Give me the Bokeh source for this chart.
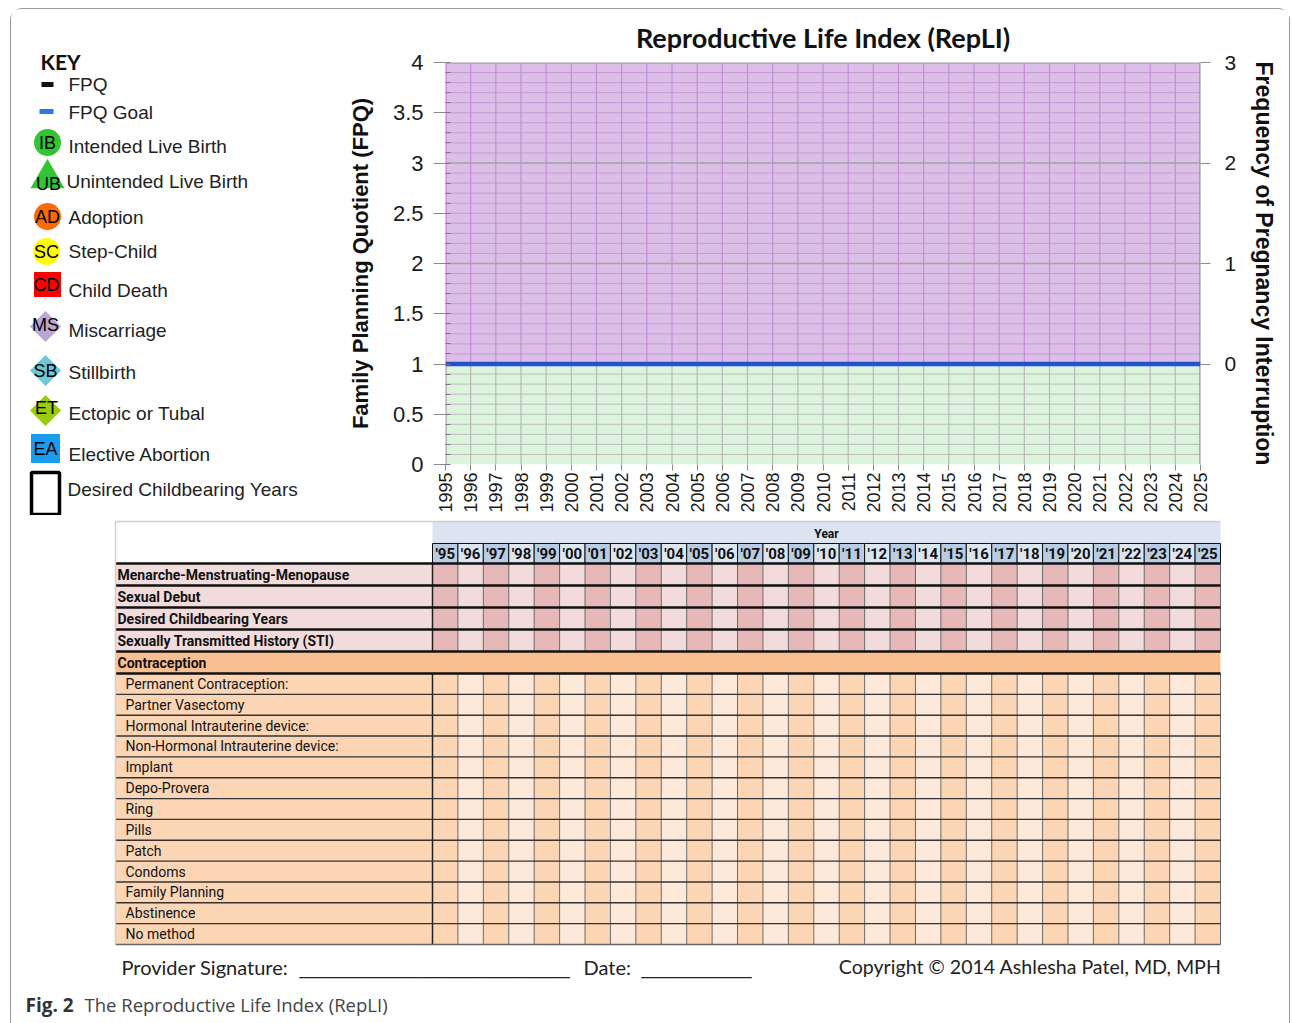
import math
from bokeh.plotting import figure
from bokeh.models import Range1d, LinearAxis, FixedTicker, ColumnDataSource, Column, Row
from bokeh.embed import file_html
from bokeh.resources import INLINE
from bokeh.core.properties import value

# ---------------- data ----------------
years = list(range(1995, 2026))
year_tick_labels = [str(y) for y in years]
year_header_labels = ["'95", "'96", "'97", "'98", "'99", "'00", "'01", "'02", "'03", "'04",
                      "'05", "'06", "'07", "'08", "'09", "'10", "'11", "'12", "'13", "'14",
                      "'15", "'16", "'17", "'18", "'19", "'20", "'21", "'22", "'23", "'24", "'25"]
fpq_ticks = [0, 0.5, 1, 1.5, 2, 2.5, 3, 3.5, 4]
fpq_tick_labels = ["0", "0.5", "1", "1.5", "2", "2.5", "3", "3.5", "4"]
fpq_minor_ticks = [round(i / 10, 1) for i in range(41)]
fpq_goal = 1.0
fpq_top = 4.0
freq_ticks = [0, 1, 2, 3]
freq_tick_labels = ["0", "1", "2", "3"]

key_labels = ["FPQ", "FPQ Goal", "Intended Live Birth", "Unintended Live Birth", "Adoption",
              "Step-Child", "Child Death", "Miscarriage", "Stillbirth", "Ectopic or Tubal",
              "Elective Abortion", "Desired Childbearing Years"]
key_codes = ["", "", "IB", "UB", "AD", "SC", "CD", "MS", "SB", "ET", "EA", ""]

history_rows = ["Menarche-Menstruating-Menopause", "Sexual Debut", "Desired Childbearing Years",
                "Sexually Transmitted History (STI)"]
contraception_header = "Contraception"
method_rows = ["Permanent Contraception:", "Partner Vasectomy", "Hormonal Intrauterine device:",
               "Non-Hormonal Intrauterine device:", "Implant", "Depo-Provera", "Ring", "Pills",
               "Patch", "Condoms", "Family Planning", "Abstinence", "No method"]

SANS = "Liberation Sans"
NARROW = "Roboto"
HUMAN = "Lato"

# page geometry (content box starts at page x=11, y=9 inside the rounded frame)
OX, OY = 11, 9
KEY_W = 338 - OX
TOP_H = 515 - OY
CHART_W = 1289 - 338
PAGE_BOTTOM = 1023


def blank(width, height, xr, yr):
    f = figure(width=width, height=height, x_range=xr, y_range=yr, x_axis_type=None,
               y_axis_type=None, output_backend="svg", toolbar_location=None, min_border=0)
    f.outline_line_color = None
    f.frame_align = False
    return f


# ---------------- key (legend) ----------------
key = blank(KEY_W, TOP_H, Range1d(OX, 338), Range1d(515, OY))
key.text(x=[40], y=[61], text=["KEY"], text_font=value(HUMAN), text_font_style="bold",
         text_font_size="21px", text_baseline="middle", text_color="#111")

label_y = [84, 112, 146, 181, 217, 251, 290, 330, 372, 413, 454, 489]
label_x = [68, 68, 68, 66, 68, 68, 68, 68, 68, 68, 68, 67]
key.text(x=label_x, y=label_y, text=key_labels, text_font=value(SANS), text_font_size="19px",
         text_baseline="middle", text_align="left", text_color="#222")

key.rect(x=[47], y=[84], width=12, height=5, fill_color="#111", line_color=None)
key.rect(x=[46], y=[111], width=14, height=5, fill_color="#2a7ae2", line_color=None)
key.scatter(x=[47, 47, 46], y=[142, 216, 251], size=27, marker="circle",
            fill_color=["#33c433", "#ff6a00", "#ffff00"], line_color=None)
key.scatter(x=[47], y=[178], size=34, marker="triangle", fill_color="#33c433", line_color=None)
key.rect(x=[47], y=[284], width=27, height=25, fill_color="#ff0000", line_color=None)
key.scatter(x=[45, 45, 45], y=[326, 370, 410], size=22, marker="square", angle=math.pi / 4,
            fill_color=["#b9a6d1", "#6ec8d8", "#99cc11"], line_color=None)
key.rect(x=[45], y=[448], width=29, height=29, fill_color="#1a9cf0", line_color=None)
key.rect(x=[45], y=[493], width=28, height=42, fill_color=None, line_color="#000",
         line_width=3.5)
code_x = [47, 48, 47, 46, 46, 45, 45, 46, 45]
code_y = [142, 183, 216, 251, 284, 324, 370, 407, 448]
key.text(x=code_x, y=code_y, text=key_codes[2:11], text_font=value(SANS),
         text_font_size="18px", text_align="center", text_baseline="middle", text_color="#000")

# ---------------- chart ----------------
chart = figure(width=CHART_W, height=TOP_H, x_range=Range1d(years[0], years[-1]),
               y_range=Range1d(0, fpq_top), output_backend="svg", toolbar_location=None,
               min_border_left=107, min_border_right=CHART_W - 107 - 755,
               min_border_top=61 - OY, min_border_bottom=48,
               title="Reproductive Life Index (RepLI)")
chart.frame_align = False
chart.title.align = "center"
chart.title.text_font = HUMAN
chart.title.text_font_size = "27px"
chart.title.text_font_style = "bold"
chart.title.text_color = "#111"
chart.title.standoff = 18
chart.outline_line_color = None
chart.grid.grid_line_color = None
chart.extra_y_ranges = {"freq": Range1d(fpq_ticks[0] - fpq_goal, fpq_top - fpq_goal)}

chart.quad(left=years[0], right=years[-1], bottom=fpq_goal, top=fpq_top,
           fill_color="#dbbfe7", line_color=None)
chart.quad(left=years[0], right=years[-1], bottom=0, top=fpq_goal,
           fill_color="#ddf4dc", line_color=None)

minor_y = [t for t in fpq_minor_ticks if 0 < t < fpq_top and abs(t - round(t)) > 1e-9]
upper = [t for t in minor_y if t > fpq_goal]
lower = [t for t in minor_y if t < fpq_goal]
chart.segment(x0=years[0], x1=years[-1], y0=upper, y1=upper, line_color="#c898d8", line_width=1)
chart.segment(x0=years[0], x1=years[-1], y0=lower, y1=lower, line_color="#bcbcbc", line_width=1)
inner_years = years[1:-1]
chart.segment(x0=inner_years, x1=inner_years, y0=fpq_goal, y1=fpq_top,
              line_color="#c48ed6", line_width=1.2)
chart.segment(x0=inner_years, x1=inner_years, y0=0, y1=fpq_goal,
              line_color="#b8b8b8", line_width=1.2)
major_upper = [t for t in range(2, int(fpq_top))]
chart.segment(x0=years[0], x1=years[-1], y0=major_upper, y1=major_upper,
              line_color="#a4a4a4", line_width=1.4)
chart.segment(x0=years[0], x1=years[-1], y0=[fpq_top], y1=[fpq_top],
              line_color="#9fab9f", line_width=2.5)
chart.segment(x0=[years[0]], x1=[years[0]], y0=[fpq_goal], y1=[fpq_top],
              line_color="#d77de6", line_width=2.5)
chart.segment(x0=[years[0]], x1=[years[0]], y0=[0], y1=[fpq_goal],
              line_color="#aaaaaa", line_width=2.5)
chart.segment(x0=[years[-1]], x1=[years[-1]], y0=[0], y1=[fpq_top],
              line_color="#999999", line_width=2.5)
chart.line(x=[years[0], years[-1]], y=[fpq_goal, fpq_goal], line_color="#2452cf", line_width=4.5)

ya = chart.yaxis[0]
ya.ticker = FixedTicker(ticks=fpq_ticks, minor_ticks=fpq_minor_ticks)
ya.major_label_overrides = dict(zip(fpq_ticks, fpq_tick_labels))
ya.axis_line_color = None
ya.major_tick_out = 12
ya.major_tick_in = 0
ya.major_tick_line_color = "#8a8a8a"
ya.minor_tick_in = 5
ya.minor_tick_out = 0
ya.minor_tick_line_color = "#8a6a96"
ya.major_label_text_font = SANS
ya.major_label_text_font_size = "22px"
ya.major_label_text_color = "#1a1a1a"
ya.major_label_standoff = 10
ya.axis_label = "Family Planning Quotient (FPQ)"
ya.axis_label_text_font = SANS
ya.axis_label_text_font_style = "bold"
ya.axis_label_text_font_size = "22px"
ya.axis_label_text_color = "#111"
ya.axis_label_standoff = 17

ra = LinearAxis(y_range_name="freq", ticker=FixedTicker(ticks=freq_ticks, minor_ticks=[]))
ra.major_label_overrides = dict(zip(freq_ticks, freq_tick_labels))
ra.axis_line_color = None
ra.major_tick_out = 10
ra.major_tick_in = 0
ra.major_tick_line_color = "#8a8a8a"
ra.minor_tick_line_color = None
ra.major_label_text_font = SANS
ra.major_label_text_font_size = "21px"
ra.major_label_text_color = "#1a1a1a"
ra.major_label_standoff = 14
ra.axis_label = "Frequency of Pregnancy Interruption"
ra.axis_label_text_font = SANS
ra.axis_label_text_font_style = "bold"
ra.axis_label_text_font_size = "23px"
ra.axis_label_text_color = "#111"
ra.axis_label_standoff = 12
chart.add_layout(ra, "right")

xa = chart.xaxis[0]
xa.ticker = FixedTicker(ticks=years, minor_ticks=[])
xa.major_label_overrides = dict(zip(years, year_tick_labels))
xa.major_label_orientation = math.pi / 2
xa.axis_line_color = None
xa.major_tick_out = 6
xa.major_tick_in = 0
xa.major_tick_line_color = "#8a8a8a"
xa.minor_tick_line_color = None
xa.major_label_text_font = SANS
xa.major_label_text_font_size = "18px"
xa.major_label_text_color = "#1a1a1a"
xa.major_label_standoff = 2

# ---------------- table ----------------
TBL_W = 1289 - OX
PX = (1220 - 432) / len(years)          # pixels per year column
tx0 = years[0] - 0.5 - (432 - OX) / PX
tbl = blank(TBL_W, 948 - 515, Range1d(tx0, tx0 + TBL_W / PX), Range1d(948, 515))
L = tx0 + (115 - OX) / PX
C0 = years[0] - 0.5
R = years[-1] + 0.5
col_l = [y - 0.5 for y in years]
col_r = [y + 0.5 for y in years]
odd = [i % 2 == 0 for i in range(len(years))]

# header
tbl.quad(left=[L], right=[C0], top=[521], bottom=[563], fill_color="white", line_color=None)
tbl.quad(left=[C0], right=[R], top=[521], bottom=[543], fill_color="#dbe5f1", line_color=None)
tbl.text(x=[(C0 + R) / 2], y=[533], text=["Year"], text_font=value(NARROW),
         text_font_style="bold", text_font_size="12px", text_align="center",
         text_baseline="middle", text_color="#111")
tbl.quad(left=col_l, right=col_r, top=543, bottom=563,
         fill_color=["#b8cce4" if o else "#dce6f1" for o in odd], line_color="#111",
         line_width=1)
tbl.text(x=years, y=553, text=year_header_labels, text_font=value(NARROW),
         text_font_style="bold", text_font_size="15px", text_align="center",
         text_baseline="middle", text_color="#111")

hist_h = 22
hist_tops = [563 + i * hist_h for i in range(len(history_rows))]
contra_top = hist_tops[-1] + hist_h
contra_bot = contra_top + 22
meth_bot = 944
meth_h = (meth_bot - contra_bot) / len(method_rows)
meth_tops = [contra_bot + i * meth_h for i in range(len(method_rows))]

cl, cr, ct, cb, cc = [], [], [], [], []
for t in hist_tops:
    for j in range(len(years)):
        cl.append(col_l[j]); cr.append(col_r[j]); ct.append(t); cb.append(t + hist_h)
        cc.append("#e6b8b7" if odd[j] else "#f2dcdb")
for t in meth_tops:
    for j in range(len(years)):
        cl.append(col_l[j]); cr.append(col_r[j]); ct.append(t); cb.append(t + meth_h)
        cc.append("#fcd5b4" if odd[j] else "#fde9d9")
tbl.quad(left=[L] * len(hist_tops), right=C0, top=hist_tops,
         bottom=[t + hist_h for t in hist_tops], fill_color="#f2dcdb", line_color=None)
tbl.quad(left=[L] * len(meth_tops), right=C0, top=meth_tops,
         bottom=[t + meth_h for t in meth_tops], fill_color="#fcd5b4", line_color=None)
tbl.quad(source=ColumnDataSource(dict(l=cl, r=cr, t=ct, b=cb, c=cc)), left="l", right="r",
         top="t", bottom="b", fill_color="c", line_color=None)
tbl.quad(left=[L], right=[R], top=[contra_top], bottom=[contra_bot], fill_color="#fabf8f",
         line_color=None)

vx = col_l[1:] + [R]
tbl.segment(x0=vx, x1=vx, y0=hist_tops[0], y1=contra_top, line_color="#6a6a6a", line_width=1)
tbl.segment(x0=vx, x1=vx, y0=contra_bot, y1=meth_bot, line_color="#6a6a6a", line_width=1)
tbl.segment(x0=[C0, C0], x1=[C0, C0], y0=[hist_tops[0], contra_bot],
            y1=[contra_top, meth_bot], line_color="#222", line_width=1.5)
hb = hist_tops + [contra_top, contra_bot]
tbl.segment(x0=L, x1=R, y0=hb, y1=hb, line_color="#111", line_width=2.5)
mb = meth_tops[1:]
tbl.segment(x0=L, x1=R, y0=mb, y1=mb, line_color="#333", line_width=1.4)
tbl.segment(x0=[L], x1=[R], y0=[meth_bot], y1=[meth_bot], line_color="#666", line_width=1.5)
tbl.segment(x0=[L, L], x1=[R, L], y0=[521, 521], y1=[521, meth_bot], line_color="#cfcfcf",
            line_width=1.5)

tbl.text(x=L + 2 / PX, y=[t + hist_h / 2 for t in hist_tops], text=history_rows,
         text_font=value(NARROW), text_font_style="bold", text_font_size="14px",
         text_baseline="middle", text_color="#111")
tbl.text(x=[L + 2 / PX], y=[(contra_top + contra_bot) / 2], text=[contraception_header],
         text_font=value(NARROW), text_font_style="bold", text_font_size="14px",
         text_baseline="middle", text_color="#111")
tbl.text(x=L + 10 / PX, y=[t + meth_h / 2 for t in meth_tops], text=method_rows,
         text_font=value(NARROW), text_font_size="14px", text_baseline="middle",
         text_color="#111")

# ---------------- footer ----------------
foot = blank(TBL_W, PAGE_BOTTOM - 948, Range1d(OX, 1289), Range1d(PAGE_BOTTOM, 948))
foot.text(x=[121, 583], y=[966, 966], text=["Provider Signature:", "Date:"],
          text_font=value(HUMAN), text_font_size="20px", text_baseline="middle",
          text_color="#222")
foot.text(x=[299, 641], y=[967, 967], text=["_" * 27, "_" * 11],
          text_font=value(SANS), text_font_size="18px", text_baseline="middle",
          text_color="#222")
foot.text(x=[1221], y=[966], text=["Copyright \u00a9 2014 Ashlesha Patel, MD, MPH"],
          text_font=value(HUMAN), text_font_size="19.6px", text_align="right",
          text_baseline="middle", text_color="#222")
foot.text(x=[25], y=[1004], text=["Fig. 2"], text_font=value("Open Sans"),
          text_font_style="bold", text_font_size="19px", text_baseline="middle",
          text_color="#333")
foot.text(x=[84], y=[1004], text=["The Reproductive Life Index (RepLI)"],
          text_font=value("Open Sans"), text_font_size="18.5px", text_baseline="middle",
          text_color="#444")

layout = Column(children=[Row(children=[key, chart]), tbl, foot],
                margin=(OY - 1, 0, 0, OX - 1),
                styles={"border": "1px solid #9a9a9a", "border-bottom": "none",
                        "border-radius": "12px 12px 0 0"})
open("out.html", "w").write(file_html(layout, INLINE))
